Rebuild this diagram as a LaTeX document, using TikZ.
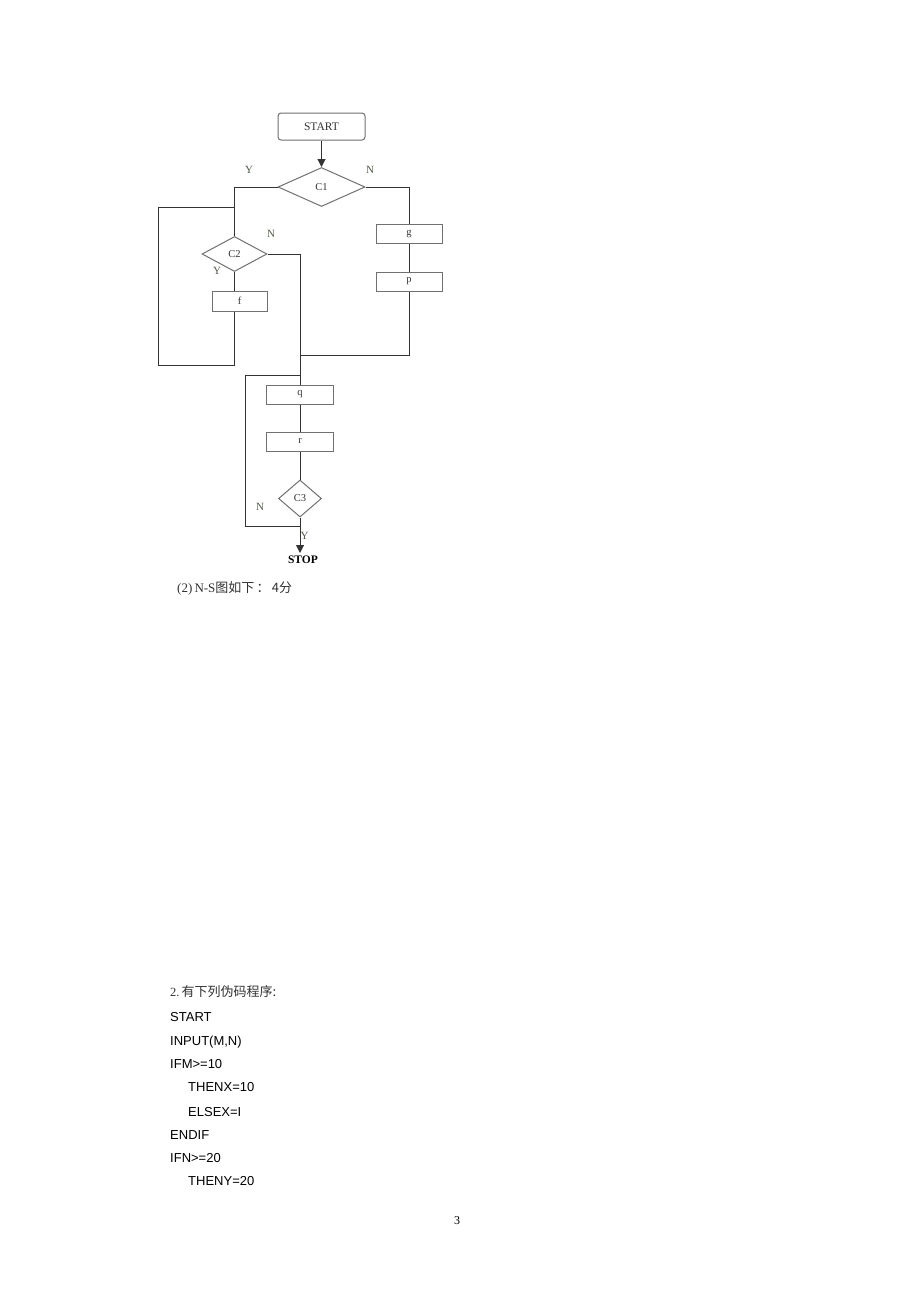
\documentclass[tikz,border=0pt]{standalone}
\usepackage{fontspec}
\setmainfont{Liberation Serif}
\newfontfamily\sansf{Liberation Sans}
\newfontfamily\cjk{Noto Sans CJK SC}
\usetikzlibrary{shapes.geometric,arrows.meta}
\definecolor{lin}{HTML}{333333}
\definecolor{boxc}{HTML}{707070}
\definecolor{lab}{HTML}{4E5A48}
\definecolor{txt}{HTML}{333333}
\begin{document}
\begin{tikzpicture}[x=1pt,y=-1pt,
  box/.style={draw=boxc,line width=1pt,minimum width=66pt,minimum height=19pt,inner sep=0pt,font=\fontsize{10.5}{12}\selectfont,text=txt},
  dia/.style={draw=boxc,line width=1pt,diamond,inner sep=0pt,font=\fontsize{10.5}{12}\selectfont,text=txt},
  yn/.style={font=\fontsize{11}{12}\selectfont,text=lab,inner sep=0pt},
  conn/.style={draw=lin,line width=1pt},
  arr/.style={conn,-{Triangle[length=8pt,width=8pt]}},
  code/.style={anchor=base west,inner sep=0pt,font=\sansf\fontsize{13}{15}\selectfont,text=black}]
\path[use as bounding box,fill=white] (0,0) rectangle (920,1302);

% flowchart nodes
\node[draw=boxc,line width=1pt,rounded corners=3pt,minimum width=87pt,minimum height=27pt,inner sep=0pt,font=\fontsize{11.5}{13}\selectfont,text=txt] (start) at (321.5,126.5) {START};
\node[dia,minimum width=87pt,minimum height=39pt] (c1) at (321.5,187) {C1};
\node[dia,minimum width=65pt,minimum height=35pt] (c2) at (234.5,254) {C2};
\node[box,minimum width=55pt,minimum height=20pt] (f) at (239.5,301) {f};
\node[box] (g) at (409,233.5) {g};
\node[box] (p) at (409,281.5) {p};
\node[box,minimum width=67pt] (q) at (300,394.5) {q};
\node[box,minimum width=67pt] (r) at (300,441.5) {r};
\node[dia,minimum width=43pt,minimum height=37pt] (c3) at (300,498.5) {C3};
\node[inner sep=0pt,font=\bfseries\fontsize{11.5}{13}\selectfont] (stop) at (303,560) {STOP};

% helper coordinates
\coordinate (a1) at (234.5,207);
\coordinate (a2) at (158,207);
\coordinate (a3) at (158,365);
\coordinate (a4) at (234.5,365);
\coordinate (m1) at (300,355);
\coordinate (b1) at (300,375);
\coordinate (b2) at (245,375);
\coordinate (b3) at (245,526);
\coordinate (b4) at (300,526);
\coordinate (stoptop) at (300,553);

% connectors
\draw[arr] (start.south) -- (c1.north);
\draw[conn] (c1.west) -| (c2.north);
\draw[conn] (c2.south) -- (c2.south |- f.north);
\draw[conn] (a4 |- f.south) -- (a4) -- (a3) -- (a2) -- (a1);
\draw[conn] (c2.east) -| (q.north);
\draw[conn] (c1.east) -| (g.north);
\draw[conn] (g.south) -- (p.north);
\draw[conn] (p.south) |- (m1);
\draw[conn] (q.south) -- (r.north);
\draw[conn] (r.south) -- (c3.north);
\draw[arr] (c3.south) -- (stoptop);
\draw[conn] (b4) -- (b3) -- (b2) -- (b1);

% labels
\node[yn] (ly1) at (249,170) {Y};
\node[yn] (ln1) at (370,170) {N};
\node[yn] (ln2) at (271,234) {N};
\node[yn] (ly2) at (217,271) {Y};
\node[yn] (ln3) at (260,507) {N};
\node[yn] (ly3) at (304.5,536) {Y};

% caption
\node[anchor=base west,inner sep=0pt,font=\fontsize{13}{15}\selectfont,text=txt] (cap) at (177,592) {(2)\,N-S{\cjk\fontsize{13}{15}\selectfont 图如下\,：\,4分}};

% pseudo code
\node[anchor=base west,inner sep=0pt,font=\fontsize{12.5}{14}\selectfont,text=txt] (h) at (170,996.5) {2.\,{\cjk\fontsize{13}{15}\selectfont 有下列伪码程序:}};
\node[code] (l1) at (170,1021.5) {START};
\node[code] (l2) at (170,1045.5) {INPUT(M,N)};
\node[code] (l3) at (170,1068.5) {IFM>=10};
\node[code] (l4) at (188,1091.5) {THENX=10};
\node[code] (l5) at (188,1116.5) {ELSEX=I};
\node[code] (l6) at (170,1139.5) {ENDIF};
\node[code] (l7) at (170,1162.5) {IFN>=20};
\node[code] (l8) at (188,1185.5) {THENY=20};

% page number
\node[inner sep=0pt,font=\fontsize{12}{14}\selectfont] (pg) at (457,1221) {3};
\end{tikzpicture}
\end{document}
